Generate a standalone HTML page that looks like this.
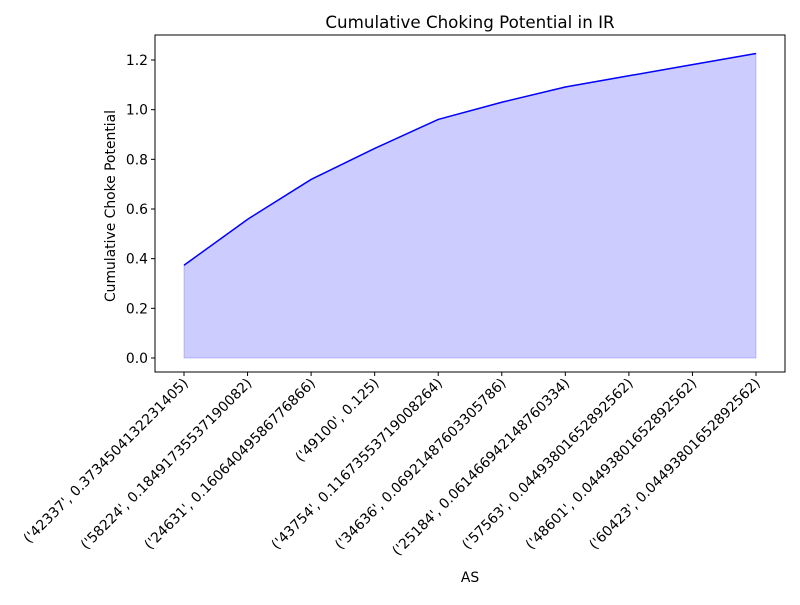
<!DOCTYPE html>
<html><head><meta charset="utf-8"><style>body{margin:0;background:#fff}svg{font-family:"DejaVu Sans","Liberation Sans",sans-serif}</style></head>
<body>
<svg id="chart" width="800" height="600" xmlns="http://www.w3.org/2000/svg">
<rect width="800" height="600" fill="#fff"/>
<text x="470" y="28" text-anchor="middle" font-size="16.7">Cumulative Choking Potential in IR</text>
<text x="470" y="582" text-anchor="middle" font-size="13.9">AS</text>
<text transform="translate(115,206) rotate(-90)" text-anchor="middle" font-size="13.9">Cumulative Choke Potential</text>
<g id="plot"></g>
</svg>
<script>
const categories=["('42337', 0.3734504132231405)","('58224', 0.18491735537190082)","('24631', 0.16064049586776866)","('49100', 0.125)","('43754', 0.11673553719008264)","('34636', 0.06921487603305786)","('25184', 0.061466942148760334)","('57563', 0.04493801652892562)","('48601', 0.04493801652892562)","('60423', 0.04493801652892562)"];
const values=[0.3735,0.5584,0.7190,0.8440,0.9607,1.0300,1.0914,1.1364,1.1813,1.2262];
const yTicks=[0.0,0.2,0.4,0.6,0.8,1.0,1.2];
const NS="http://www.w3.org/2000/svg";
const L=155,R=785,T=35,B=372;
const x=i=>184+i*(756-184)/(categories.length-1);
const y=v=>358-v*(358-60)/1.2;
const g=document.getElementById('plot');
function mk(t,a){const e=document.createElementNS(NS,t);for(const k in a)e.setAttribute(k,a[k]);g.appendChild(e);return e;}
let area="M"+x(0)+","+y(0);
values.forEach((v,i)=>area+=" L"+x(i)+","+y(v));
area+=" L"+x(values.length-1)+","+y(0)+" Z";
const a=mk('path',{d:area,fill:'#0000ff',"fill-opacity":0.2,stroke:'#0000ff',"stroke-opacity":0.2});


const ln=mk('polyline',{points:values.map((v,i)=>x(i)+","+y(v)).join(" "),fill:'none',stroke:'#0000ff',"stroke-width":1.5});


const fr=mk('rect',{x:L,y:T,width:R-L,height:B-T,fill:'none',stroke:'#000',"stroke-width":1});


yTicks.forEach(v=>{
 mk('line',{x1:L-4,x2:L,y1:y(v),y2:y(v),stroke:'#000'});
 const t=mk('text',{x:L-7,y:y(v)+5,"text-anchor":"end","font-size":13.9});
 t.textContent=v.toFixed(1);
 
 
});
categories.forEach((c,i)=>{
 mk('line',{x1:x(i),x2:x(i),y1:B,y2:B+4,stroke:'#000'});
 const t=mk('text',{transform:`translate(${x(i)+5},${B+12}) rotate(-45)`,"text-anchor":"end","font-size":13.9});
 t.textContent=c;
 
 
});
</script>
</body></html>
